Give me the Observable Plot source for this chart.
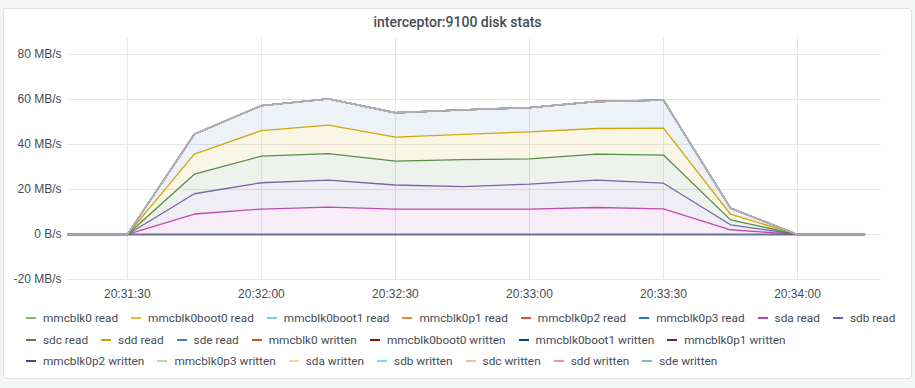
<!DOCTYPE html>
<html><head><meta charset="utf-8">
<script src="https://cdn.jsdelivr.net/npm/d3@7"></script>
<script src="https://cdn.jsdelivr.net/npm/@observablehq/plot@0.6"></script>
<style>
html,body{margin:0;padding:0;background:#f4f5f5;width:915px;height:388px;overflow:hidden;}
#panel{position:absolute;left:3px;top:8px;width:909px;height:371px;background:#fff;border:1px solid #dfe1e5;border-radius:3px;box-sizing:border-box;}
#title{position:absolute;left:0;top:14px;width:915px;text-align:center;font:500 14px Roboto,sans-serif;color:#464c54;}
#chart{position:absolute;left:0;top:0;}
#legend{position:absolute;left:26px;top:307.6px;width:880px;display:flex;flex-wrap:wrap;column-gap:13px;font:11.8px Roboto,sans-serif;color:#464c54;}
.item{display:flex;align-items:center;height:21.4px;white-space:nowrap;}
.sw{width:10px;height:2px;margin-right:7px;}
</style>
</head><body>
<div id="panel"></div>
<div id="title">interceptor:9100 disk stats</div>
<div id="chart"></div>
<div id="legend"></div>
<script>
// ---- data ----
const times = ["20:31:15","20:31:30","20:31:45","20:32:00","20:32:15","20:32:30","20:32:45","20:33:00","20:33:15","20:33:30","20:33:45","20:34:00","20:34:15"];
const seriesNames = ["mmcblk0 read","mmcblk0boot0 read","mmcblk0boot1 read","mmcblk0p1 read","mmcblk0p2 read","mmcblk0p3 read","sda read","sdb read","sdc read","sdd read","sde read","mmcblk0 written","mmcblk0boot0 written","mmcblk0boot1 written","mmcblk0p1 written","mmcblk0p2 written","mmcblk0p3 written","sda written","sdb written","sdc written","sdd written","sde written"];
const seriesColors = ["#7EB26D","#EAB839","#6ED0E0","#EF843C","#E24D42","#1F78C1","#BA43A9","#705DA0","#508642","#CCA300","#447EBF","#C15C17","#890F02","#0A437C","#6D1F62","#584477","#B7DBAB","#F4D598","#70DBED","#F9BA8F","#F29191","#82B5D8"];
// MB/s
const zeros    = [0,0,0,0,0,0,0,0,0,0,0,0,0];
const sdaRead  = [0,0,9.1,11.3,12.2,11.3,11.3,11.3,12.0,11.4,2.1,0,0];
const sdbRead  = [0,0,9.0,11.7,12.0,10.7,10.0,11.1,12.2,11.4,2.2,0,0];
const sdcRead  = [0,0,8.7,11.8,11.7,10.6,12.0,11.2,11.5,12.5,2.2,0,0];
const sddRead  = [0,0,8.9,11.4,12.7,10.7,11.2,12.0,11.4,12.0,2.5,0,0];
const sdeRead  = [0,0,8.9,11.1,11.7,10.8,10.9,10.8,12.0,12.4,2.7,0,0];
const seriesValues = {
  "sda read": sdaRead, "sdb read": sdbRead, "sdc read": sdcRead, "sdd read": sddRead, "sde read": sdeRead
};
const xTickLabels = ["20:31:30","20:32:00","20:32:30","20:33:00","20:33:30","20:34:00"];
const yTicks = [-20, 0, 20, 40, 60, 80];
const xDomain = ["20:31:16.6","20:34:18.8"];
const yDomain = [-20, 87.1];

// ---- build ----
const toDate = s => { const [h,m,sec] = s.split(":"); return new Date(Date.UTC(2021,0,1,+h,+m,0,Math.round(parseFloat(sec)*1000))); };
const colorOf = Object.fromEntries(seriesNames.map((n,i)=>[n, seriesColors[i]]));
const data = [];
for (const name of seriesNames) {
  const vals = seriesValues[name] || zeros;
  times.forEach((t,i)=> data.push({series:name, time:toDate(t), value:vals[i]}));
}
const fmtY = v => v === 0 ? "0 B/s" : `${v} MB/s`;

const chart = Plot.plot({
  width: 915, height: 310,
  marginTop: 38, marginBottom: 31, marginLeft: 67, marginRight: 34,
  style: {background: "transparent", fontFamily: "'Liberation Sans', Arial, sans-serif", fontSize: "12px", color: "#464c54"},
  x: {type: "utc", domain: xDomain.map(toDate), ticks: xTickLabels.map(toDate), tickFormat: d3.utcFormat("%H:%M:%S"), tickSize: 0, tickPadding: 10, label: null},
  y: {domain: yDomain, ticks: yTicks, tickFormat: fmtY, tickSize: 0, tickPadding: 6, label: null},
  marks: [
    Plot.ruleX(xTickLabels.map(toDate), {stroke: "#e6e6e6"}),
    Plot.ruleY(yTicks, {stroke: "#e6e6e6"}),
    Plot.areaY(data, Plot.stackY({x: "time", y: "value", z: "series", fill: d => colorOf[d.series], fillOpacity: 0.1, clip: true})),
    Plot.lineY(data, Plot.stackY2({x: "time", y: "value", z: "series", stroke: d => colorOf[d.series], strokeWidth: 1.3, strokeOpacity: d => seriesValues[d.series] ? 0.95 : 0.6, clip: true}))
  ]
});
document.getElementById("chart").appendChild(chart);

const legend = document.getElementById("legend");
seriesNames.forEach((n,i)=>{
  const it = document.createElement("div"); it.className = "item";
  const sw = document.createElement("span"); sw.className = "sw"; sw.style.background = seriesColors[i];
  const tx = document.createElement("span"); tx.textContent = n;
  it.appendChild(sw); it.appendChild(tx); legend.appendChild(it);
});
</script>
</body></html>
